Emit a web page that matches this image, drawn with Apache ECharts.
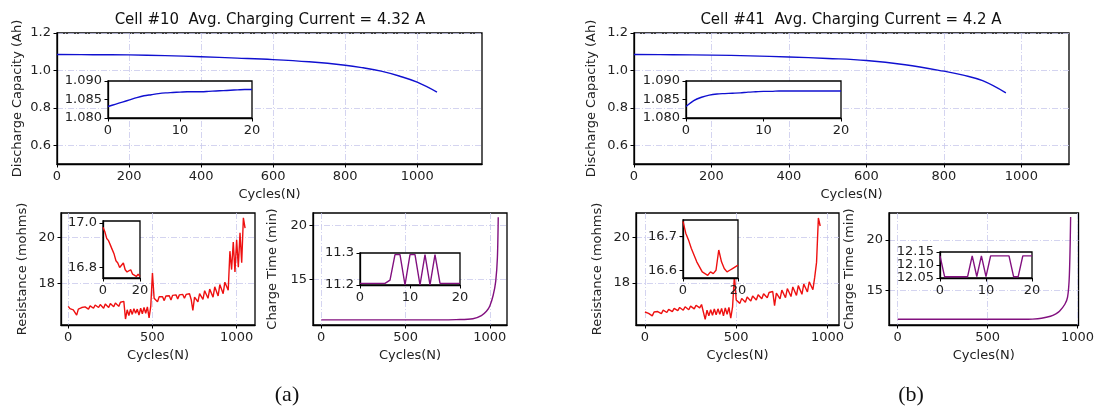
<!DOCTYPE html>
<html>
<head>
<meta charset="utf-8">
<script src="https://cdn.jsdelivr.net/npm/echarts@6/dist/echarts.min.js"></script>
<style>
  html, body { margin: 0; background: #fff; }
  #main { width: 1097px; height: 413px; }
</style>
</head>
<body>
<div id="main"></div>
<script>
// ---- data ----
const capCyclesA = [0, 100, 200, 300, 400, 500, 600, 700, 800, 850, 900, 950, 1000, 1055];
const capA = [1.085, 1.084, 1.083, 1.079, 1.073, 1.066, 1.058, 1.046, 1.028, 1.014, 0.996, 0.970, 0.937, 0.884];
const capCyclesB = [0, 100, 200, 300, 400, 500, 600, 700, 800, 850, 900, 960];
const capB = [1.085, 1.084, 1.082, 1.078, 1.072, 1.064, 1.053, 1.030, 0.996, 0.975, 0.945, 0.880];

// resistance, one value every 10 cycles
const resStep = 10;
const resA = [
  17.00, 16.90, 16.86, 16.85, 16.88, 16.62, 16.88, 16.92, 16.95, 16.90,
  16.98, 17.00, 16.88, 17.02, 17.04, 16.92, 17.06, 17.05, 16.95, 17.08,
  17.10, 16.92, 17.10, 17.12, 16.95, 17.12, 17.14, 16.98, 17.15, 17.16,
  17.00, 17.18, 17.20, 17.22, 16.45, 16.85, 16.60, 16.88, 16.65, 16.90,
  16.70, 16.88, 16.62, 16.92, 16.68, 16.95, 16.70, 16.98, 16.50, 17.00,
  18.45, 17.35, 17.40, 17.20, 17.42, 17.38, 17.42, 17.25, 17.45, 17.42,
  17.46, 17.28, 17.48, 17.45, 17.50, 17.32, 17.50, 17.48, 17.52, 17.35,
  17.52, 17.50, 17.55, 17.30, 16.82, 17.40, 17.45, 17.20, 17.55, 17.62,
  17.30, 17.68, 17.72, 17.35, 17.75, 17.80, 17.40, 17.85, 17.90, 17.45,
  17.95, 18.00, 17.55, 18.05, 18.10, 17.70, 19.40, 18.60, 19.80, 18.50,
  19.90, 18.70, 20.20, 18.90, 20.85, 20.40
];
const resB = [
  16.72, 16.68, 16.66, 16.70, 16.55, 16.72, 16.75, 16.74, 16.78, 16.65,
  16.80, 16.82, 16.70, 16.84, 16.86, 16.74, 16.88, 16.90, 16.78, 16.92,
  16.94, 16.80, 16.95, 16.97, 16.82, 16.98, 17.00, 16.86, 17.02, 17.04,
  16.90, 17.05, 17.08, 16.40, 16.80, 16.55, 16.82, 16.58, 16.85, 16.60,
  16.86, 16.62, 16.88, 16.55, 16.90, 16.62, 16.92, 16.45, 16.95, 18.30,
  17.25, 17.30, 17.10, 17.32, 17.35, 17.15, 17.38, 17.40, 17.20, 17.42,
  17.45, 17.25, 17.48, 17.50, 17.30, 17.52, 17.55, 17.35, 17.58, 17.60,
  17.62, 17.00, 17.55, 17.62, 17.30, 17.68, 17.70, 17.35, 17.75, 17.78,
  17.40, 17.82, 17.85, 17.45, 17.88, 17.92, 17.50, 17.95, 18.00, 17.60,
  18.05, 18.10, 17.70, 18.25, 18.90, 20.85, 20.50
];

const chargeCyclesA = [0, 100, 200, 300, 400, 500, 600, 700, 800, 900, 950, 980, 1000, 1020, 1035, 1045, 1050];
const chargeA = [11.2, 11.2, 11.2, 11.2, 11.2, 11.2, 11.2, 11.2, 11.22, 11.3, 11.6, 12.0, 12.5, 13.5, 14.8, 17.0, 20.8];
const chargeCyclesB = [0, 100, 200, 300, 400, 500, 600, 700, 750, 800, 850, 880, 900, 930, 945, 955, 962];
const chargeB = [12.1, 12.1, 12.1, 12.1, 12.1, 12.1, 12.1, 12.1, 12.12, 12.2, 12.4, 12.65, 12.9, 13.6, 14.3, 16.5, 22.3];

// first 20 cycles (insets), one value per cycle 0..20
const capFirstA = [1.0831, 1.0837, 1.0843, 1.0849, 1.0855, 1.0860, 1.0863, 1.0866, 1.0868, 1.0869, 1.0870,
  1.0871, 1.0871, 1.0871, 1.0872, 1.0873, 1.0874, 1.0875, 1.0876, 1.0877, 1.0877];
const capFirstB = [1.0831, 1.0847, 1.0856, 1.0862, 1.0865, 1.0866, 1.0867, 1.0868, 1.0870, 1.0871, 1.0872,
  1.0872, 1.0873, 1.0873, 1.0873, 1.0873, 1.0873, 1.0873, 1.0873, 1.0873, 1.0873];
const resFirstA = [16.98, 16.96, 16.93, 16.92, 16.90, 16.88, 16.86, 16.83, 16.82, 16.80, 16.81,
  16.82, 16.79, 16.78, 16.78, 16.79, 16.77, 16.77, 16.76, 16.77, 16.76];
const resFirstB = [16.745, 16.71, 16.69, 16.665, 16.645, 16.625, 16.61, 16.595, 16.59, 16.585, 16.595,
  16.59, 16.60, 16.66, 16.625, 16.605, 16.595, 16.60, 16.605, 16.61, 16.615];
const chargeFirstA = [11.205, 11.205, 11.205, 11.205, 11.205, 11.205, 11.215, 11.295, 11.295, 11.2, 11.295,
  11.295, 11.2, 11.295, 11.2, 11.295, 11.205, 11.205, 11.205, 11.205, 11.205];
const chargeFirstB = [12.135, 12.055, 12.055, 12.055, 12.055, 12.055, 12.055, 12.135, 12.055, 12.135, 12.055,
  12.135, 12.135, 12.135, 12.135, 12.135, 12.055, 12.055, 12.135, 12.135, 12.135];

const titleA = 'Cell #10  Avg. Charging Current = 4.32 A';
const titleB = 'Cell #41  Avg. Charging Current = 4.2 A';

// ---- helpers ----
const font = 'DejaVu Sans';
const pair = (xs, ys) => ys.map((y, i) => [xs[i], y]);
const stepped = (ys, step) => ys.map((y, i) => [i * step, y]);

const gridLine = { show: true, lineStyle: { color: '#c9c9ec', width: 0.8, type: [6, 2, 1, 2] } };

function grid(left, top, width, height, inset) {
  return {
    left, top, width, height, show: true,
    borderColor: '#000', borderWidth: 1.3,
    backgroundColor: inset ? '#fff' : 'transparent',
    z: inset ? 10 : 0,
  };
}

function axis(dim, gridIndex, min, max, ticks, o) {
  return {
    type: 'value', gridIndex, min, max, z: o.inset ? 11 : 1,
    name: o.name || '', nameLocation: 'middle', nameGap: o.gap || 20,
    nameRotate: dim === 'y' ? 90 : 0,
    nameTextStyle: { fontSize: 13, color: '#222', fontFamily: font },
    axisLine: { show: true, onZero: false, lineStyle: { color: '#000', width: 1.3 } },
    axisTick: { show: true, customValues: ticks, length: 3.5, lineStyle: { color: '#000' } },
    axisLabel: {
      customValues: ticks, fontSize: 13, color: '#222', margin: 6, fontFamily: font,
      formatter: (v) => v.toFixed(o.dec || 0),
    },
    splitLine: o.inset ? { show: false } : Object.assign({ customValues: ticks }, gridLine),
  };
}

function line(i, data, color, inset, smooth) {
  return {
    type: 'line', xAxisIndex: i, yAxisIndex: i, data,
    showSymbol: false, symbol: 'none', smooth: smooth || false,
    lineStyle: { color, width: 1.4 }, itemStyle: { color },
    z: inset ? 12 : 2, animation: false,
  };
}

const blue = '#1010d0';
const red = '#ee1010';
const purple = '#82107f';

const grids = [
  grid(57, 33, 425, 131),     // 0 capacity a
  grid(634, 33, 435, 131),    // 1 capacity b
  grid(61, 213, 194, 112),    // 2 resistance a
  grid(313, 213, 194, 112),   // 3 charge time a
  grid(636, 213, 203, 112),   // 4 resistance b
  grid(889, 213, 193, 112),   // 5 charge time b
  grid(108, 81, 144, 37, true),   // 6 inset cap a
  grid(686, 81, 155, 37, true),   // 7 inset cap b
  grid(103, 221, 37, 57, true),   // 8 inset res a
  grid(360, 253, 100, 32, true),  // 9 inset charge a
  grid(683, 220, 55, 58, true),   // 10 inset res b
  grid(940, 252, 92, 26, true),   // 11 inset charge b
];

const capTicksX = [0, 200, 400, 600, 800, 1000];
const capTicksY = [0.6, 0.8, 1.0, 1.2];
const cyc = [0, 500, 1000];

const xAxes = [
  axis('x', 0, 0, 1180, capTicksX, { name: 'Cycles(N)', gap: 24 }),
  axis('x', 1, 0, 1123, capTicksX, { name: 'Cycles(N)', gap: 24 }),
  axis('x', 2, -43, 1109, cyc, { name: 'Cycles(N)', gap: 24 }),
  axis('x', 3, -49, 1102, cyc, { name: 'Cycles(N)', gap: 24 }),
  axis('x', 4, -49, 1063, cyc, { name: 'Cycles(N)', gap: 24 }),
  axis('x', 5, -48, 1006, cyc, { name: 'Cycles(N)', gap: 24 }),
  axis('x', 6, 0, 20, [0, 10, 20], { inset: true }),
  axis('x', 7, 0, 20, [0, 10, 20], { inset: true }),
  axis('x', 8, 0, 20, [0, 20], { inset: true }),
  axis('x', 9, 0, 20, [0, 10, 20], { inset: true }),
  axis('x', 10, 0, 20, [0, 20], { inset: true }),
  axis('x', 11, 0, 20, [0, 10, 20], { inset: true }),
];

const yAxes = [
  axis('y', 0, 0.5, 1.2, capTicksY, { name: 'Discharge Capacity (Ah)', gap: 33, dec: 1 }),
  axis('y', 1, 0.5, 1.2, capTicksY, { name: 'Discharge Capacity (Ah)', gap: 36, dec: 1 }),
  axis('y', 2, 16.19, 21.06, [18, 20], { name: 'Resistance (mohms)', gap: 32 }),
  axis('y', 3, 10.72, 21.19, [15, 20], { name: 'Charge Time (min)', gap: 34 }),
  axis('y', 4, 16.15, 21.07, [18, 20], { name: 'Resistance (mohms)', gap: 32 }),
  axis('y', 5, 11.53, 22.7, [15, 20], { name: 'Charge Time (min)', gap: 33 }),
  axis('y', 6, 1.08, 1.09, [1.08, 1.085, 1.09], { inset: true, dec: 3 }),
  axis('y', 7, 1.08, 1.09, [1.08, 1.085, 1.09], { inset: true, dec: 3 }),
  axis('y', 8, 16.753, 17.008, [16.8, 17.0], { inset: true, dec: 1 }),
  axis('y', 9, 11.2, 11.3, [11.2, 11.3], { inset: true, dec: 1 }),
  axis('y', 10, 16.577, 16.749, [16.6, 16.7], { inset: true, dec: 1 }),
  axis('y', 11, 12.05, 12.15, [12.05, 12.1, 12.15], { inset: true, dec: 2 }),
];

const first20 = capFirstA.map((_, i) => i);

const series = [
  line(0, pair(capCyclesA, capA), blue, false, 0.4),
  line(1, pair(capCyclesB, capB), blue, false, 0.4),
  line(2, stepped(resA, resStep), red),
  line(3, pair(chargeCyclesA, chargeA), purple, false, 0.3),
  line(4, stepped(resB, resStep), red),
  line(5, pair(chargeCyclesB, chargeB), purple, false, 0.3),
  line(6, pair(first20, capFirstA), blue, true, 0.3),
  line(7, pair(first20, capFirstB), blue, true, 0.3),
  line(8, pair(first20, resFirstA), red, true),
  line(9, pair(first20, chargeFirstA), purple, true),
  line(10, pair(first20, resFirstB), red, true),
  line(11, pair(first20, chargeFirstB), purple, true),
];

function label(text, x, y, size, family) {
  return {
    type: 'text', x, y, z: 20,
    style: {
      text, fontSize: size, fontFamily: family || font, fill: '#111',
      textAlign: 'center', textVerticalAlign: 'middle',
    },
  };
}

const chart = echarts.init(document.getElementById('main'));
chart.setOption({
  backgroundColor: '#fff',
  animation: false,
  textStyle: { fontFamily: font },
  grid: grids,
  xAxis: xAxes,
  yAxis: yAxes,
  series,
  graphic: [
    label(titleA, 270, 20, 15),
    label(titleB, 851, 20, 15),
    label('(a)', 287, 395, 22, 'Liberation Serif'),
    label('(b)', 911, 395, 22, 'Liberation Serif'),
  ],
});
</script>
</body>
</html>
